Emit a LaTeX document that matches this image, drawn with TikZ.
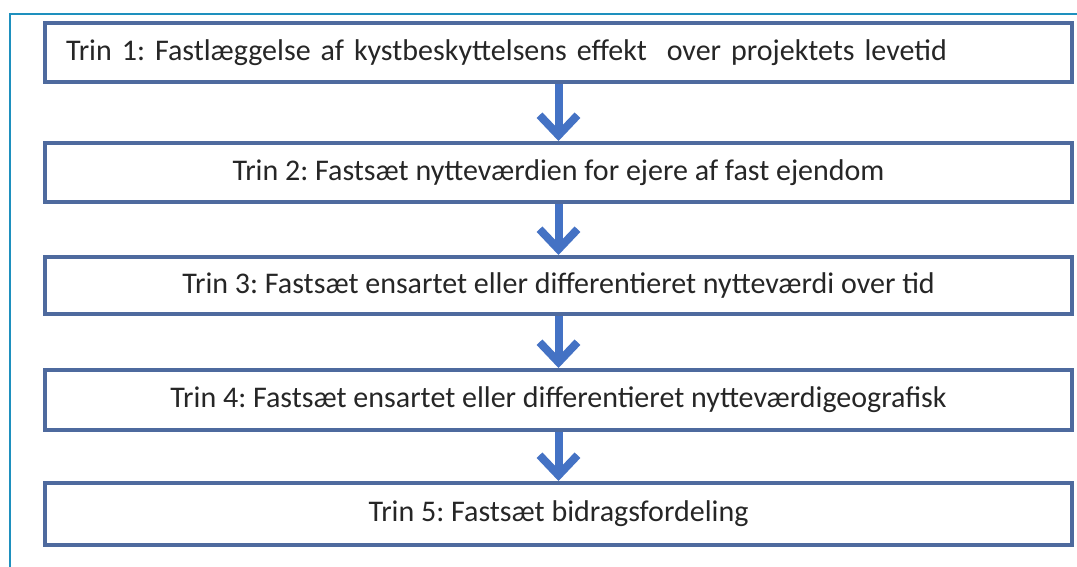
\documentclass[tikz,border=0pt]{standalone}
\usepackage{fontspec}
\setmainfont{Carlito}
\usepackage{tikz}
\definecolor{stepborder}{RGB}{78,106,158}
\definecolor{steparrow}{RGB}{68,114,196}
\definecolor{framecyan}{RGB}{30,144,190}
\definecolor{steptext}{RGB}{38,38,38}
\usetikzlibrary{arrows.meta}
\usetikzlibrary{positioning}
\tikzstyle{stepbox}=[draw=stepborder, line width=4pt, fill=white, text=steptext, minimum width=1027pt, minimum height=59pt, inner sep=0pt, font={\fontsize{30}{36}\selectfont\frenchspacing}]
\tikzstyle{link}=[-{Straight Barb[length=20pt, width=38pt, line width=8pt]}, line width=8pt, steparrow]

\begin{document}
\begin{tikzpicture}[x=1pt, y=-1pt]

    \useasboundingbox (0, 0) rectangle (1077, 567);
    \draw[framecyan, line width=2pt] (10, 567) |- (1077, 14);

    \node[stepbox, text width=985pt, inner xsep=21pt, align=left] (trin1) at (558.5, 52.5) {Trin 1: Fastlæggelse af kystbeskyttelsens effekt \ over projektets levetid};
    \node[stepbox] (trin2) at (558.5, 172.5) {Trin 2: Fastsæt nytteværdien for ejere af fast ejendom};
    \node[stepbox, minimum height=57pt] (trin3) at (558.5, 285.5) {Trin 3: Fastsæt ensartet eller differentieret nytteværdi over tid};
    \node[stepbox, minimum height=60pt] (trin4) at (558.5, 400) {Trin 4: Fastsæt ensartet eller differentieret nytteværdigeografisk};
    \node[stepbox, minimum height=62pt] (trin5) at (558.5, 514) {Trin 5: Fastsæt bidragsfordeling};

    \draw[link] (trin1) -- (trin2);
    \draw[link] (trin2) -- (trin3);
    \draw[link] (trin3) -- (trin4);
    \draw[link] (trin4) -- (trin5);

\end{tikzpicture}
\end{document}
